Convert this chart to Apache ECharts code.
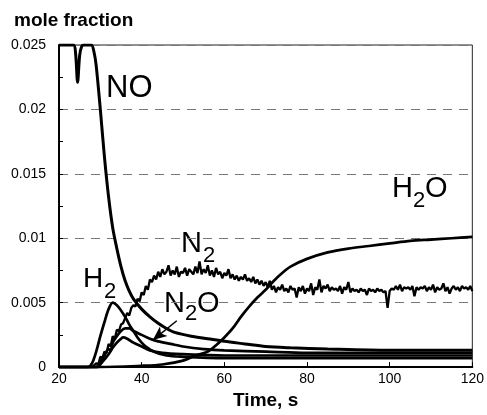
<!DOCTYPE html>
<html>
<head>
<meta charset="utf-8">
<script src="https://cdn.jsdelivr.net/npm/echarts@6/dist/echarts.min.js"></script>
<style>html,body{margin:0;padding:0;background:#fff;}#c{width:487px;height:415px;}</style>
</head>
<body>
<div id="c"></div>
<script>
// ---- data (time s, mole fraction) ----
const xTicks = [20, 40, 60, 80, 100, 120];
const yTicks = [0, 0.005, 0.01, 0.015, 0.02, 0.025];

const NO = [[20,0.025],[23.5,0.025],[24,0.0244],[24.5,0.0221],[25,0.0242],[25.5,0.0249],[26,0.025],[27.8,0.025],[28.5,0.0244],[29,0.0234],[30,0.0200],[31,0.0163],[32,0.0132],[33,0.0108],[34,0.0092],[35,0.0078],[36,0.0067],[37,0.0059],[38,0.0053],[40,0.0045],[42,0.0039],[44,0.0034],[46,0.0030],[48,0.0027],[52,0.0024],[56,0.0022],[60,0.0020],[65,0.0018],[70,0.0016],[76,0.0015],[85,0.0014],[100,0.0013],[120,0.0013]];

const H2 = [[20,0],[27,0],[28,0.0003],[29,0.0012],[30,0.0024],[31,0.0035],[32,0.0045],[33,0.0050],[34,0.0048],[35,0.0044],[36,0.0039],[37,0.0033],[38,0.0028],[39,0.0023],[40,0.0019],[41,0.0016],[43,0.0012],[46,0.0009],[50,0.0008],[60,0.0007],[80,0.0007],[120,0.0007]];

const N2O = [[20,0],[29,0],[30,0.0004],[31,0.0009],[32,0.0014],[32.5,0.0013],[33,0.0019],[34,0.0024],[35,0.0028],[36,0.0030],[37,0.0030],[38,0.0028],[40,0.0025],[42,0.0022],[44,0.0020],[47,0.0018],[50,0.0016],[55,0.0014],[60,0.0013],[70,0.0012],[80,0.0011],[100,0.0011],[120,0.0011]];

const X3 = [[20,0],[29.5,0],[30,0.0002],[31,0.0006],[32,0.0010],[33,0.0015],[34,0.0019],[35,0.0022],[35.5,0.0023],[36.5,0.0022],[38,0.0019],[40,0.0016],[42,0.0013],[45,0.0011],[50,0.0010],[60,0.0009],[80,0.0009],[120,0.0009]];

const H2O = [[20,0],[30,0],[40,0.0001],[45,0.0002],[50,0.0005],[53,0.0009],[56,0.0012],[58,0.0017],[60,0.0023],[62,0.0030],[64,0.0039],[66,0.0047],[68,0.0054],[70,0.0060],[72,0.0067],[74,0.0073],[76,0.0078],[80,0.0084],[85,0.0089],[90,0.0092],[95,0.0094],[100,0.0096],[105,0.0098],[110,0.0099],[115,0.0100],[120,0.0101]];

const N2rise = [[20,0],[28,0],[29,0.0003],[29.5,0.0002],[30,0.0008],[30.5,0.0007],[31,0.0012],[31.5,0.0011],[32,0.0018],[32.5,0.0016],[33,0.0024],[33.5,0.0022],[34,0.0029],[34.5,0.0028],[35,0.0033],[35.5,0.0034]];
const N2start = 36, N2step = 0.5;
const N2noisy = [0.0038,0.0042,0.0040,0.0046,0.0048,0.0047,0.0053,0.0051,0.0058,0.0056,
0.0063,0.0060,0.0068,0.0066,0.0071,0.0068,0.0074,0.0070,0.0076,0.0072,
0.0074,0.0079,0.0071,0.0075,0.0072,0.0078,0.0070,0.0074,0.0073,0.0077,
0.0071,0.0076,0.0074,0.0072,0.0078,0.0073,0.0082,0.0072,0.0076,0.0073,
0.0079,0.0071,0.0075,0.0070,0.0077,0.0072,0.0074,0.0069,0.0073,0.0071,
0.0076,0.0069,0.0072,0.0068,0.0071,0.0067,0.0070,0.0068,0.0072,0.0067,
0.0069,0.0066,0.0070,0.0065,0.0068,0.0064,0.0067,0.0063,0.0066,0.0062,
0.0067,0.0060,0.0063,0.0058,0.0062,0.0060,0.0064,0.0059,0.0061,0.0058,
0.0063,0.0060,0.0061,0.0054,0.0062,0.0059,0.0063,0.0057,0.0061,0.0059,
0.0065,0.0056,0.0062,0.0060,0.0068,0.0058,0.0063,0.0061,0.0064,0.0059,
0.0062,0.0060,0.0061,0.0059,0.0063,0.0057,0.0062,0.0060,0.0066,0.0058,
0.0061,0.0059,0.0060,0.0058,0.0061,0.0059,0.0060,0.0056,0.0061,0.0059,
0.0060,0.0058,0.0061,0.0059,0.0060,0.0058,0.0059,0.0046,0.0059,0.0061,
0.0060,0.0063,0.0060,0.0064,0.0059,0.0062,0.0061,0.0062,0.0060,0.0063,
0.0055,0.0062,0.0060,0.0062,0.0061,0.0063,0.0059,0.0062,0.0060,0.0064,
0.0058,0.0062,0.0060,0.0061,0.0065,0.0059,0.0062,0.0057,0.0061,0.0063,
0.0060,0.0062,0.0059,0.0063,0.0061,0.0062,0.0060,0.0063,0.0059];

const N2 = N2rise.concat(N2noisy.map((v, i) => [N2start + i * N2step, v]));

// N2O arrow (data coords: tail, head)
const arrowFrom = [48.5, 0.0036];
const arrowTo = [42.7, 0.0021];

// ---- chart ----
const FONT = '"Liberation Sans", Arial, sans-serif';
const chart = echarts.init(document.getElementById('c'), null, {renderer: 'canvas'});

function line(name, data, smooth, w) {
  return {
    name, type: 'line', data, showSymbol: false, smooth: smooth,
    lineStyle: {color: '#000', width: w || 2.7}, animation: false, z: 3
  };
}

const n2oSeries = line('N2O', N2O, 0.3);
n2oSeries.markLine = {
  silent: true, symbol: ['none', 'arrow'], symbolSize: [9, 14],
  label: {show: false},
  lineStyle: {color: '#000', width: 1.5, type: 'solid'},
  data: [[{coord: arrowFrom}, {coord: arrowTo}]]
};

chart.setOption({
  backgroundColor: '#fff',
  animation: false,
  title: {
    text: 'mole fraction', left: 9, top: 6,
    textStyle: {fontFamily: FONT, fontSize: 19, fontWeight: 'bold', color: '#000'}
  },
  grid: {left: 59, right: 14, top: 45, bottom: 43, show: true, borderColor: '#222', borderWidth: 1},
  xAxis: {
    type: 'value', min: xTicks[0], max: xTicks[xTicks.length - 1], interval: 20,
    name: 'Time, s', nameLocation: 'middle', nameGap: 22,
    nameTextStyle: {fontFamily: FONT, fontSize: 19, fontWeight: 'bold', color: '#000'},
    axisLine: {lineStyle: {color: '#000', width: 2}},
    axisTick: {inside: true, length: 5, lineStyle: {color: '#000'}},
    axisLabel: {fontFamily: FONT, fontSize: 14, color: '#000', margin: 5},
    splitLine: {show: false}
  },
  yAxis: {
    type: 'value', min: yTicks[0], max: yTicks[yTicks.length - 1], interval: 0.005,
    axisLine: {show: true, lineStyle: {color: '#000', width: 2}},
    axisTick: {show: true, inside: true, length: 4, lineStyle: {color: '#000'}},
    minorTick: {show: true, splitNumber: 2, length: 4, lineStyle: {color: '#000'}},
    axisLabel: {fontFamily: FONT, fontSize: 14, color: '#000', margin: 13},
    splitLine: {show: true, lineStyle: {color: '#777', width: 1, type: [9, 7]}}
  },
  series: [
    line('NO', NO, 0.3, 3),
    line('H2', H2, 0.3),
    n2oSeries,
    line('X3', X3, 0.3),
    line('H2O', H2O, 0.3),
    line('N2', N2, false, 2.3)
  ],
  graphic: [
    {type: 'text', left: 106, top: 73, style: {text: 'NO', font: '31px ' + FONT, fill: '#000'}},
    {type: 'text', left: 83, top: 265, style: {text: 'H', font: '28px ' + FONT, fill: '#000'}},
    {type: 'text', left: 104, top: 281, style: {text: '2', font: '22px ' + FONT, fill: '#000'}},
    {type: 'text', left: 181, top: 229, style: {text: 'N', font: '29px ' + FONT, fill: '#000'}},
    {type: 'text', left: 203, top: 245, style: {text: '2', font: '22px ' + FONT, fill: '#000'}},
    {type: 'text', left: 164, top: 289, style: {text: 'N', font: '29px ' + FONT, fill: '#000'}},
    {type: 'text', left: 185, top: 303, style: {text: '2', font: '22px ' + FONT, fill: '#000'}},
    {type: 'text', left: 197, top: 289, style: {text: 'O', font: '29px ' + FONT, fill: '#000'}},
    {type: 'text', left: 392, top: 174, style: {text: 'H', font: '29px ' + FONT, fill: '#000'}},
    {type: 'text', left: 413, top: 190, style: {text: '2', font: '22px ' + FONT, fill: '#000'}},
    {type: 'text', left: 425, top: 174, style: {text: 'O', font: '29px ' + FONT, fill: '#000'}}
  ]
});
</script>
</body>
</html>
